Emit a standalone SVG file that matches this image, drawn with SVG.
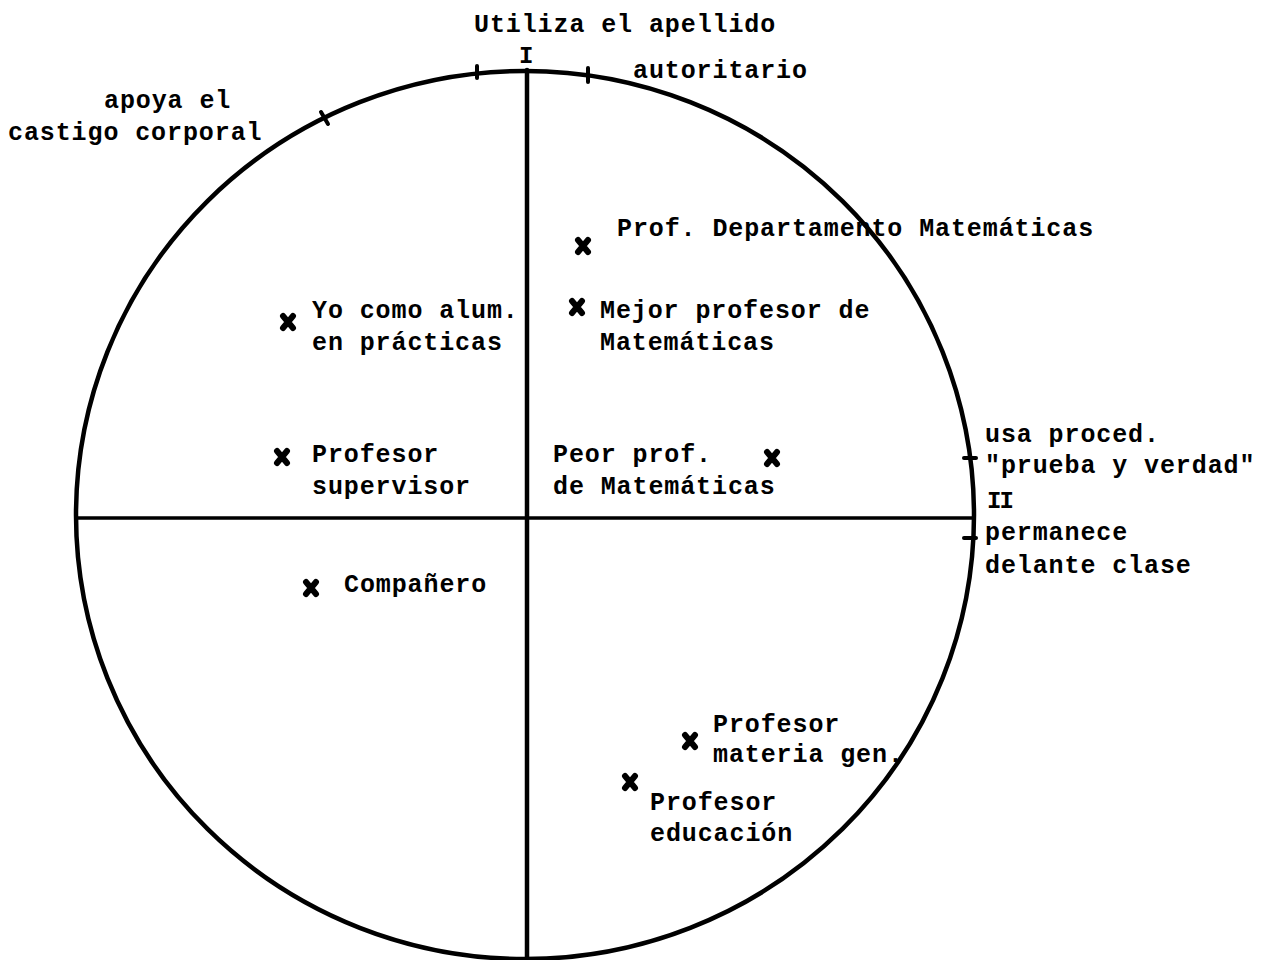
<svg xmlns="http://www.w3.org/2000/svg" width="1273" height="960" viewBox="0 0 1273 960">
  <style>
    .lbl { font-family: "Liberation Mono", "DejaVu Sans Mono", monospace; font-size: 25px; font-weight: bold; letter-spacing: 0.9px; fill: #000; }
    .pole { font-family: "Liberation Mono", "DejaVu Sans Mono", monospace; font-size: 24px; font-weight: bold; fill: #000; }
    .ax { stroke: #000; fill: none; stroke-linecap: round; }
    .tick { stroke: #000; stroke-width: 4; stroke-linecap: round; }
    .mk { stroke: #000; stroke-width: 6; stroke-linecap: round; fill: none; }
  </style>
  <defs>
    <path id="cross" class="mk" d="M-5,-6 L5,6 M5,-6 L-5,6"/>
  </defs>
  <rect width="1273" height="960" fill="#fff"/>

  <!-- circle and axes -->
  <g id="connectors">
    <ellipse class="ax" cx="525" cy="515" rx="449" ry="444" stroke-width="4.5"/>
    <line class="ax" x1="527" y1="70" x2="527" y2="960" stroke-width="4.5"/>
    <line class="ax" x1="78" y1="518" x2="973" y2="518" stroke-width="3.5"/>
    <!-- construct ticks on the rim -->
    <line class="tick" x1="477" y1="66" x2="477" y2="78"/>
    <line class="tick" x1="588" y1="68" x2="588" y2="82"/>
    <line class="tick" x1="321" y1="112" x2="328" y2="124"/>
    <line class="tick" x1="964" y1="458" x2="976" y2="458"/>
    <line class="tick" x1="964" y1="538" x2="976" y2="538"/>
  </g>

  <!-- pole labels -->
  <g id="pole-I">
    <text class="lbl" x="474" y="32">Utiliza el apellido</text>
    <text class="pole" x="519" y="63">I</text>
  </g>
  <g id="pole-autoritario">
    <text class="lbl" x="633" y="78">autoritario</text>
  </g>
  <g id="pole-castigo">
    <text class="lbl" x="104" y="108">apoya el</text>
    <text class="lbl" x="8" y="140">castigo corporal</text>
  </g>
  <g id="pole-II">
    <text class="lbl" x="985" y="442">usa proced.</text>
    <text class="lbl" x="985" y="473">"prueba y verdad"</text>
    <text class="pole" x="987" y="508" letter-spacing="-2">II</text>
    <text class="lbl" x="985" y="540">permanece</text>
    <text class="lbl" x="985" y="573">delante clase</text>
  </g>

  <!-- plotted elements -->
  <g id="prof-departamento">
    <use href="#cross" x="583" y="246"/>
    <text class="lbl" x="617" y="236">Prof. Departamento Matemáticas</text>
  </g>
  <g id="mejor-profesor">
    <use href="#cross" x="577" y="307"/>
    <text class="lbl" x="600" y="318">Mejor profesor de</text>
    <text class="lbl" x="600" y="350">Matemáticas</text>
  </g>
  <g id="yo-alumno">
    <use href="#cross" x="288" y="322"/>
    <text class="lbl" x="312" y="318">Yo como alum.</text>
    <text class="lbl" x="312" y="350">en prácticas</text>
  </g>
  <g id="profesor-supervisor">
    <use href="#cross" x="282" y="457"/>
    <text class="lbl" x="312" y="462">Profesor</text>
    <text class="lbl" x="312" y="494">supervisor</text>
  </g>
  <g id="peor-profesor">
    <use href="#cross" x="772" y="458"/>
    <text class="lbl" x="553" y="462">Peor prof.</text>
    <text class="lbl" x="553" y="494">de Matemáticas</text>
  </g>
  <g id="companero">
    <use href="#cross" x="311" y="588"/>
    <text class="lbl" x="344" y="592">Compañero</text>
  </g>
  <g id="profesor-materia">
    <use href="#cross" x="690" y="741"/>
    <text class="lbl" x="713" y="732">Profesor</text>
    <text class="lbl" x="713" y="762">materia gen.</text>
  </g>
  <g id="profesor-educacion">
    <use href="#cross" x="630" y="782"/>
    <text class="lbl" x="650" y="810">Profesor</text>
    <text class="lbl" x="650" y="841">educación</text>
  </g>
</svg>
